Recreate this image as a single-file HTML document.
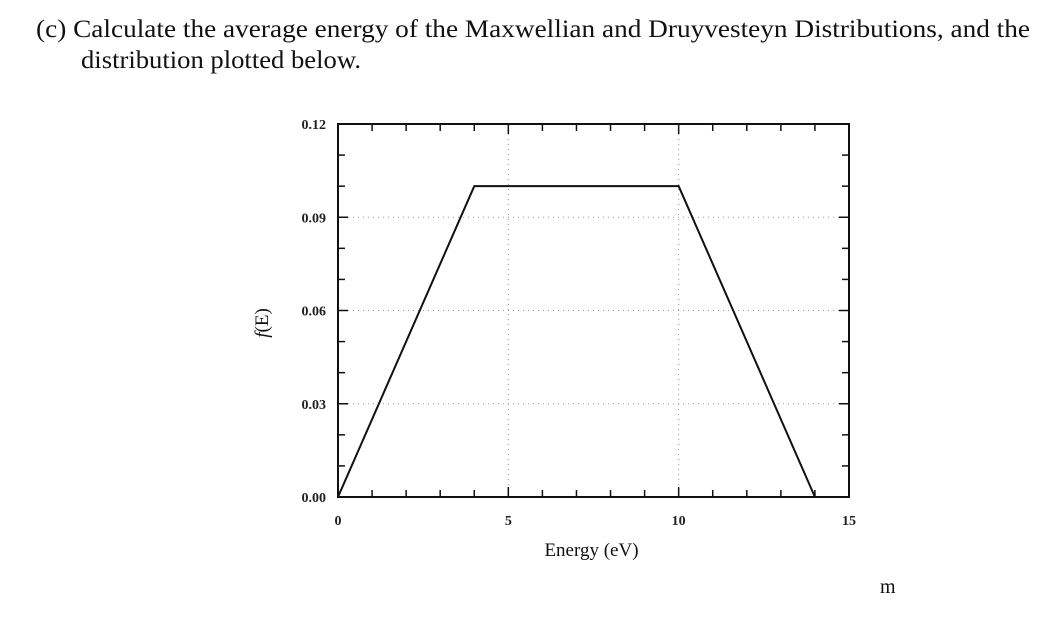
<!DOCTYPE html>
<html><head><meta charset="utf-8"><style>
body{margin:0;background:#fff;width:1051px;height:622px;overflow:hidden;font-family:"Liberation Serif",serif;}
svg{position:absolute;left:0;top:0}
</style></head><body>
<svg width="1051" height="622">
<text x="36" y="37" font-size="25" textLength="994" lengthAdjust="spacingAndGlyphs" font-family="Liberation Serif, serif" fill="#111">(c) Calculate the average energy of the Maxwellian and Druyvesteyn Distributions, and the</text>
<text x="81" y="68" font-size="25" textLength="280" lengthAdjust="spacingAndGlyphs" font-family="Liberation Serif, serif" fill="#111">distribution plotted below.</text>
<text x="880" y="593" font-size="20" font-family="Liberation Serif, serif" fill="#111">m</text>
<g id="plot"></g>
</svg>
<script>
const xData=[0,4,10,14];
const yData=[0,0.1,0.1,0];
const xTicks=[0,5,10,15];
const yTicks=[0,0.03,0.06,0.09,0.12];
const yTickLabels=["0.00","0.03","0.06","0.09","0.12"];
const L=338,R=849,T=124,B=497;
const sx=v=>L+(v-0)/(15-0)*(R-L);
const sy=v=>B-(v-0)/(0.12-0)*(B-T);
const NS="http://www.w3.org/2000/svg";
const g=document.getElementById('plot');
function mk(t,a){const e=document.createElementNS(NS,t);for(const k in a)e.setAttribute(k,a[k]);g.appendChild(e);return e;}
for(const v of [0.03,0.06,0.09]){
const e=mk('line',{x1:L,x2:R,y1:sy(v),y2:sy(v),stroke:'#999','stroke-width':1,'stroke-dasharray':'1 4'});


}
for(const v of [5,10]){
const e=mk('line',{x1:sx(v),x2:sx(v),y1:T,y2:B,stroke:'#999','stroke-width':1,'stroke-dasharray':'1 4'});


}
for(let i=0;i<=15;i++){
const x=sx(i),len=(i%5==0)?10:7;
let e=mk('line',{x1:x,x2:x,y1:B,y2:B-len,stroke:'#111','stroke-width':1.5});


e=mk('line',{x1:x,x2:x,y1:T,y2:T+len,stroke:'#111','stroke-width':1.5});


}
for(let i=0;i<=12;i++){
const y=sy(i*0.01),len=(i%3==0)?10:7;
let e=mk('line',{x1:L,x2:L+len,y1:y,y2:y,stroke:'#111','stroke-width':1.5});


e=mk('line',{x1:R,x2:R-len,y1:y,y2:y,stroke:'#111','stroke-width':1.5});


}
const fr=mk('rect',{x:L,y:T,width:R-L,height:B-T,fill:'none',stroke:'#111','stroke-width':2});


xTicks.forEach(v=>{
const e=mk('text',{x:sx(v),y:B+28,'text-anchor':'middle','font-size':14,'font-weight':'bold','font-family':'Liberation Serif, serif',fill:'#222'});
e.textContent=v;


});
yTicks.forEach((v,i)=>{
const e=mk('text',{x:L-12,y:sy(v)+5,'text-anchor':'end','font-size':14,'font-weight':'bold','font-family':'Liberation Serif, serif',fill:'#222'});
e.textContent=yTickLabels[i];


});
let t=mk('text',{x:(L+R)/2-2,y:556,'text-anchor':'middle','font-size':19,'font-family':'Liberation Serif, serif',fill:'#111'});
t.textContent='Energy (eV)';


t=mk('text',{x:0,y:0,'text-anchor':'middle','font-size':19,'font-family':'Liberation Serif, serif',fill:'#111',transform:'translate(268,323) rotate(-90)'});
t.innerHTML='<tspan font-style="italic">f</tspan>(E)';


const pts=xData.map((x,i)=>sx(x)+','+sy(yData[i])).join(' ');
const p=mk('polyline',{points:pts,fill:'none',stroke:'#111','stroke-width':2});


</script>
</body></html>
